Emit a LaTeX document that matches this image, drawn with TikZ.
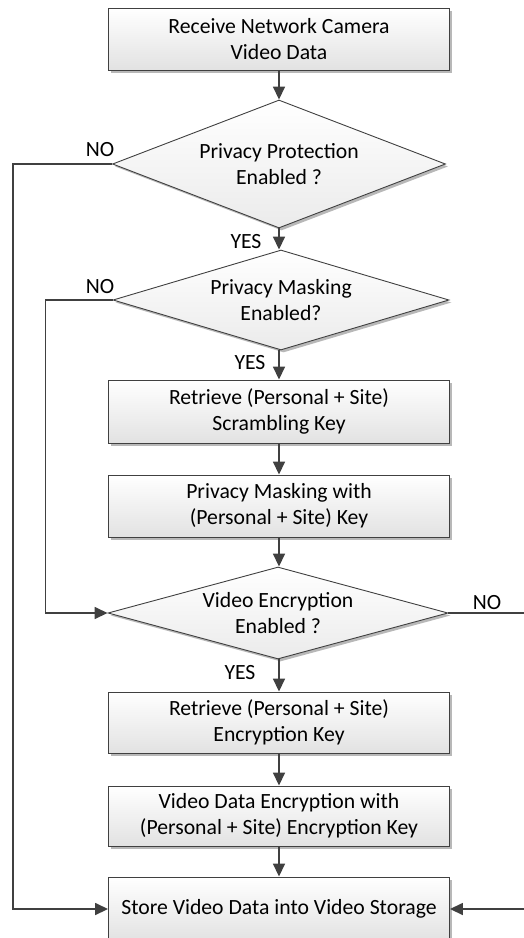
\documentclass[tikz,border=0pt]{standalone}
\usepackage{fontspec}
\setmainfont{Carlito}
\usetikzlibrary{shapes.geometric, arrows.meta, shadows}
\definecolor{FlowGray}{RGB}{64,64,64}
\definecolor{FlowShade}{RGB}{226,226,226}
\begin{document}
\begin{tikzpicture}[x=1pt, y=-1pt,
      every node/.style={font=\fontsize{21.7}{26.4}\selectfont, text=black},
      pbox/.style={rectangle, draw=FlowGray, line width=0.9pt,
                   top color=white, bottom color=FlowShade,
                   minimum width=341pt, minimum height=62pt, align=center,
                   drop shadow={shadow xshift=2.5pt, shadow yshift=-2.5pt,
                                fill=black!35, opacity=0.8}},
      dbox/.style={diamond, draw=FlowGray, line width=0.9pt,
                   top color=white, bottom color=FlowShade!70,
                   inner sep=-12pt, align=center,
                   drop shadow={shadow xshift=2.5pt, shadow yshift=-2.5pt,
                                fill=black!35, opacity=0.8}},
      arr/.style={-{Triangle[length=13pt, width=12pt]}, draw=FlowGray, line width=1.6pt},
      lbl/.style={inner sep=0pt}
    ]
    \useasboundingbox (0,0) rectangle (524,938);
    \clip (0,0) rectangle (524,938);

    \node[pbox]                                          (recv)     at (279, 39)
          {Receive Network Camera\\Video Data};
    \node[dbox, aspect=2.6, minimum width=333pt, minimum height=128pt] (protect) at (279, 164)
          {Privacy Protection\\Enabled ?};
    \node[dbox, aspect=3.36, minimum width=336pt, minimum height=100pt] (masking) at (281, 300)
          {Privacy Masking\\Enabled?};
    \node[pbox, minimum height=63pt]                     (scramble) at (279, 411.5)
          {Retrieve (Personal + Site)\\Scrambling Key};
    \node[pbox]                                          (maskkey)  at (279, 506)
          {Privacy Masking with\\(Personal + Site) Key};
    \node[dbox, aspect=3.7, minimum width=340pt, minimum height=92pt] (encrypt) at (278, 613)
          {Video Encryption\\Enabled ?};
    \node[pbox, minimum height=61pt]                     (enckey)   at (279, 722.5)
          {Retrieve (Personal + Site)\\Encryption Key};
    \node[pbox, minimum height=60pt]                     (encdata)  at (279, 816)
          {Video Data Encryption with\\(Personal + Site) Encryption Key};
    \node[pbox, minimum height=64pt]                     (store)    at (279, 909)
          {Store Video Data into Video Storage};

    % main flow
    \draw[arr] (recv.south)     -- (recv.south |- protect.north);
    \draw[arr] (protect.south)  -- (protect.south |- masking.north);
    \draw[arr] (scramble.south |- masking.south) -- (scramble.north);
    \draw[arr] (scramble.south) -- (maskkey.north);
    \draw[arr] (maskkey.south)  -- (maskkey.south |- encrypt.north);
    \draw[arr] (enckey.north |- encrypt.south) -- (enckey.north);
    \draw[arr] (enckey.south)   -- (encdata.north);
    \draw[arr] (encdata.south)  -- (store.north);

    % bypass branches
    \draw[arr] (protect.west) -- ++(-99,0) |- (store.west);
    \draw[arr] (masking.west) -- ++(-67,0) |- (encrypt.west);
    \draw[arr] (encrypt.east) -- ++(100,0) |- (store.east);

    \node[lbl] (noA)  at (100, 150) {NO};
    \node[lbl] (yesA) at (246, 242) {YES};
    \node[lbl] (noB)  at (100, 287) {NO};
    \node[lbl] (yesB) at (250, 363) {YES};
    \node[lbl] (noC)  at (487, 603) {NO};
    \node[lbl] (yesC) at (240, 673) {YES};
  \end{tikzpicture}
\end{document}
